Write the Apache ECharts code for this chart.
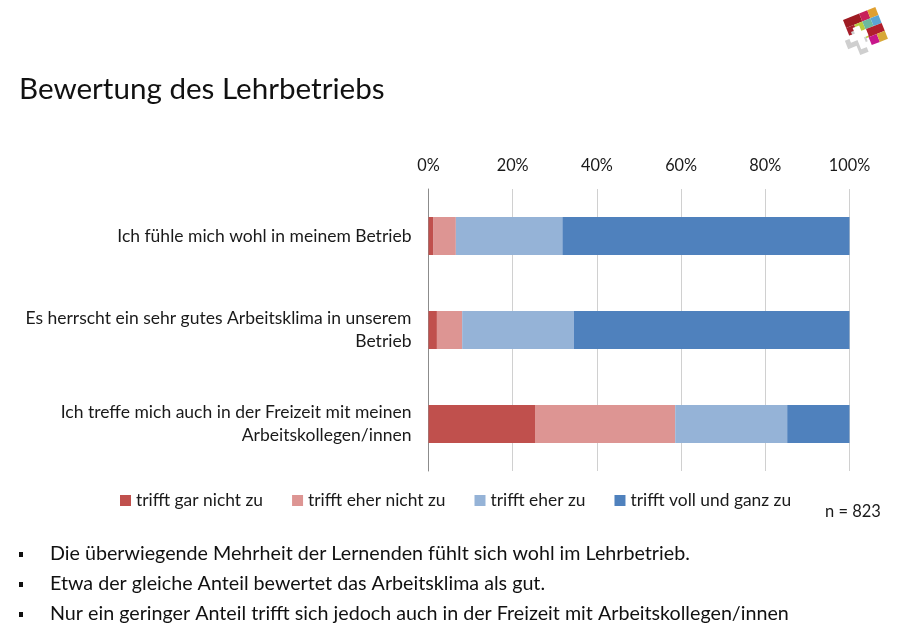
<!DOCTYPE html>
<html>
<head>
<meta charset="utf-8">
<style>
  html, body { margin: 0; padding: 0; background: #fff; }
  #chart { width: 912px; height: 637px; }
</style>
<script src="https://cdn.jsdelivr.net/npm/echarts@6/dist/echarts.min.js"></script>
</head>
<body>
<div id="chart"></div>
<script>
var categories = [
  "Ich fühle mich wohl in meinem Betrieb",
  "Es herrscht ein sehr gutes Arbeitsklima in unserem\nBetrieb",
  "Ich treffe mich auch in der Freizeit mit meinen\nArbeitskollegen/innen"
];
var garNicht = [1.2, 2.0, 25.3];
var eherNicht = [5.3, 6.0, 33.3];
var eherZu = [25.3, 26.5, 26.6];
var vollGanz = [68.2, 65.5, 14.8];
var seriesNames = ["trifft gar nicht zu", "trifft eher nicht zu", "trifft eher zu", "trifft voll und ganz zu"];
var seriesColors = ["#C0504D", "#DD9593", "#95B3D7", "#4F81BD"];
var bullets = [
  "Die überwiegende Mehrheit der Lernenden fühlt sich wohl im Lehrbetrieb.",
  "Etwa der gleiche Anteil bewertet das Arbeitsklima als gut.",
  "Nur ein geringer Anteil trifft sich jedoch auch in der Freizeit mit Arbeitskollegen/innen"
];
// colour, column, row, column span
var logoCells = [
  ["#9E1B22", 0, 0, 2], ["#C8205A", 2, 0, 1], ["#E0A030", 3, 0, 1],
  ["#A51E2A", 0, 1, 1], ["#B8CC40", 1, 1, 1], ["#6CB8A0", 2, 1, 1], ["#5AA5D5", 3, 1, 1],
  ["#B01F2C", 2, 2, 2], ["#BDCE3C", 1, 2, 1],
  ["#C8168C", 2, 3, 1], ["#D8A838", 3, 3, 1]
];

var font = "Lato";
var textColor = "#1a1a1a";
var chart = echarts.init(document.getElementById("chart"), null, { renderer: "canvas" });

function makeSeries(i, values) {
  return {
    name: seriesNames[i],
    type: "bar",
    stack: "total",
    barWidth: 38,
    data: values,
    itemStyle: { color: seriesColors[i] },
    silent: true
  };
}

var graphics = [
  {
    type: "text", left: 19, top: 74,
    style: { text: "Bewertung des Lehrbetriebs", font: "29.6px " + font, fill: "#111" }
  },
  {
    type: "text", left: 825, top: 503,
    style: { text: "n = 823", font: "16.5px " + font, fill: textColor }
  }
];

bullets.forEach(function (line, i) {
  graphics.push({
    type: "rect",
    shape: { x: 19, y: 552 + i * 30, width: 4, height: 5 },
    style: { fill: "#111" }
  });
  graphics.push({
    type: "text", left: 50, top: 544 + i * 30,
    style: { text: line, font: "19.7px " + font, fill: "#111" }
  });
});

// logo, tilted square of coloured cells with a white cross and grey shadow
var cw = 8.7, ch = 8.5;
var logoChildren = logoCells.map(function (c) {
  return {
    type: "rect",
    shape: { x: c[1] * cw, y: c[2] * ch, width: c[3] * cw, height: ch },
    style: { fill: c[0] }
  };
});
logoChildren.push({ type: "rect", shape: { x: -6, y: 20, width: 21, height: 9 }, style: { fill: "#CFCFCF" } });
logoChildren.push({ type: "rect", shape: { x: 3, y: 14, width: 9, height: 25 }, style: { fill: "#CFCFCF" } });
logoChildren.push({ type: "rect", shape: { x: -1, y: 17, width: 19, height: 7 }, style: { fill: "#fff" } });
logoChildren.push({ type: "rect", shape: { x: 6, y: 11, width: 7, height: 23 }, style: { fill: "#fff" } });
graphics.push({
  type: "group", x: 843, y: 20, rotation: 0.38,
  children: logoChildren
});

chart.setOption({
  animation: false,
  textStyle: { fontFamily: font },
  grid: { left: 428.5, right: 62.5, top: 189, bottom: 166, containLabel: false },
  legend: {
    left: 115,
    top: 487,
    itemWidth: 11,
    itemHeight: 11,
    itemGap: 29,
    icon: "rect",
    selectedMode: false,
    textStyle: { fontFamily: font, fontSize: 17.4, color: textColor, padding: [0, 0, 0, 0] },
    data: seriesNames
  },
  xAxis: {
    type: "value",
    position: "top",
    min: 0,
    max: 100,
    interval: 20,
    axisLine: { show: false },
    axisTick: { show: false },
    splitLine: { show: true, lineStyle: { color: "#D0D0D0", width: 1 } },
    axisLabel: { formatter: "{value}%", fontSize: 16.3, color: textColor, margin: 15 }
  },
  yAxis: {
    type: "category",
    inverse: true,
    data: categories,
    axisLine: { show: true, lineStyle: { color: "#8C8C8C", width: 1 } },
    axisTick: { show: false },
    axisLabel: { fontSize: 17.5, color: textColor, margin: 17, lineHeight: 23, align: "right" }
  },
  series: [
    makeSeries(0, garNicht),
    makeSeries(1, eherNicht),
    makeSeries(2, eherZu),
    makeSeries(3, vollGanz)
  ],
  graphic: graphics
});
</script>
</body>
</html>
